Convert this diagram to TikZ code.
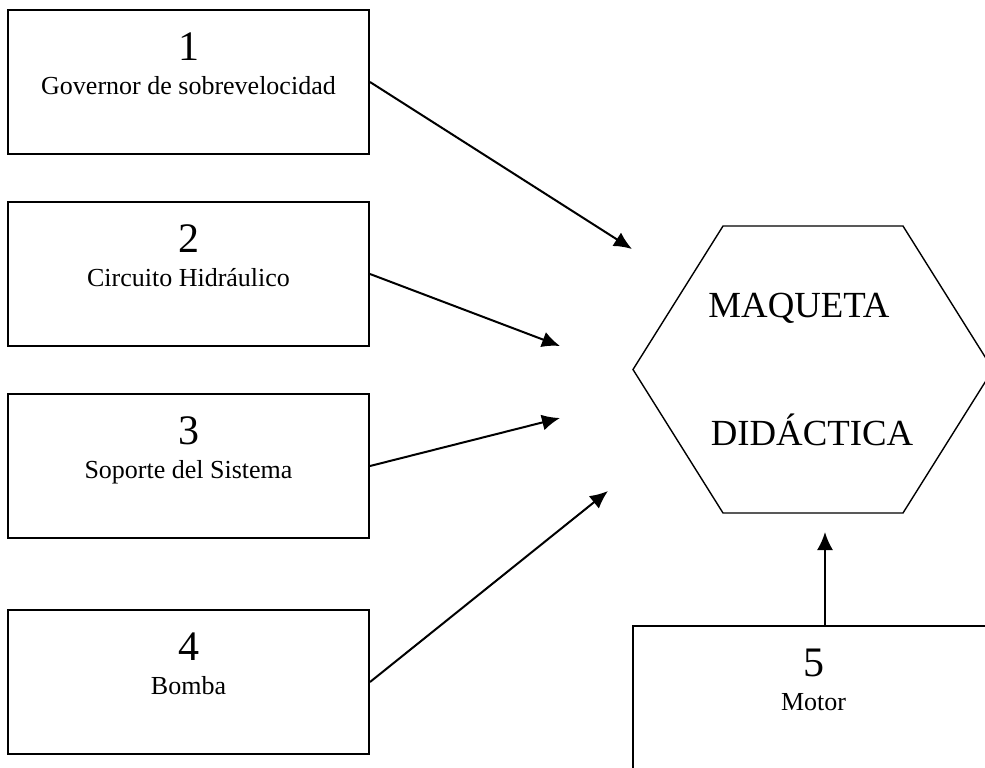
\documentclass[tikz,border=0pt]{standalone}
\usepackage{fontspec}
\setmainfont{Liberation Serif}
\usepackage{tikz}
\usetikzlibrary{arrows.meta,shapes.symbols}

\begin{document}
\begin{tikzpicture}[x=0.5pt, y=-0.5pt,
    caja/.style={draw, line width=1pt, minimum width=180.5pt, minimum height=72pt, inner sep=0pt},
    num/.style={anchor=base, font=\fontsize{21}{24}\selectfont, inner sep=0pt},
    lab/.style={anchor=base, font=\fontsize{13}{15}\selectfont, inner sep=0pt},
    big/.style={anchor=base, font=\fontsize{18.4}{21}\selectfont, inner sep=0pt},
    flecha/.style={line width=1pt, -{Latex[length=9pt,width=8pt]}}]
                \useasboundingbox (0,0) rectangle (985,767);
                \foreach \i/\y/\lab in {1/82/Governor de sobrevelocidad, 2/274/Circuito Hidráulico, 3/466/Soporte del Sistema, 4/682/Bomba}{
                \node[caja] (b\i) at (188.5,\y) {};
                \node[num] (n\i) at ([yshift=-25.5pt]b\i.north) {\i};
                \node[lab] (t\i) at ([yshift=-42.5pt]b\i.north) {\lab};
                }
                \node[caja] (b5) at (813.5,698) {};
                \node[num] (n5) at ([yshift=-25.5pt]b5.north) {5};
                \node[lab] (t5) at ([yshift=-42.5pt]b5.north) {Motor};
                \node[draw, line width=0.7pt, signal, signal to=west and east, signal pointer angle=115.8,
                      minimum width=180pt, minimum height=143.5pt, inner sep=0pt] (maq) at (813,369.5) {};
                \node[big] (m1) at (799,317) {MAQUETA};
                \node[big] (m2) at (812,445) {DIDÁCTICA};
                \coordinate (p1) at (632,249);
                \coordinate (p2) at (560,346);
                \coordinate (p3) at (560,418);
                \coordinate (p4) at (608,491);
                \coordinate (p5) at (825,532);
                \foreach \i in {1,2,3,4}
                \draw[flecha] (b\i.east) -- (p\i);
                \draw[flecha] ([xshift=5.75pt]b5.north) -- (p5);
            \end{tikzpicture}
\end{document}
